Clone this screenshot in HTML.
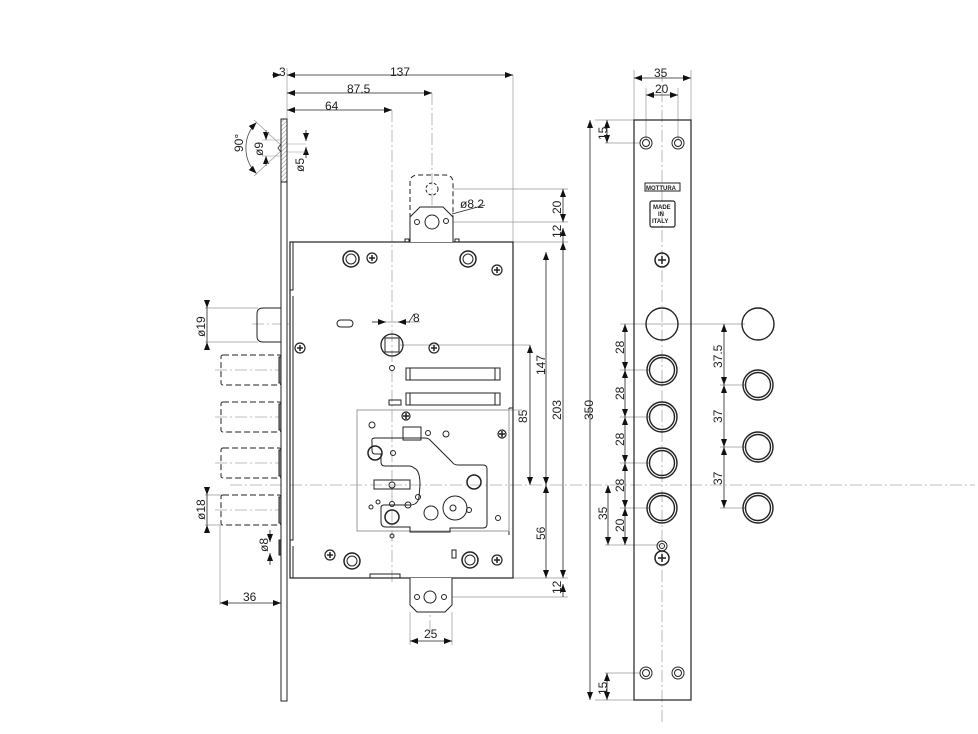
<!DOCTYPE html>
<html><head><meta charset="utf-8"><style>
html,body{margin:0;padding:0;background:#fff;}
svg{display:block;}
text{font-family:"Liberation Sans",sans-serif;font-size:12px;fill:#222;}
</style></head><body>
<svg width="978" height="734" viewBox="0 0 978 734" xmlns="http://www.w3.org/2000/svg">
<defs>
<marker id="a" markerWidth="8" markerHeight="6" refX="8" refY="3" orient="auto-start-reverse" markerUnits="userSpaceOnUse"><path d="M0,0 L8,3 L0,6z" fill="#111"/></marker>
<pattern id="h" width="3" height="3" patternUnits="userSpaceOnUse" patternTransform="rotate(45)"><line x1="0" y1="0" x2="0" y2="3" stroke="#888" stroke-width="1"/></pattern>
</defs>
<g fill="none" stroke="#222" stroke-width="1">
<g stroke="#aaa" stroke-dasharray="12,3,2,3" stroke-width="0.8">
<line x1="230" y1="485" x2="975" y2="485"/>
<line x1="392" y1="110" x2="392" y2="585"/>
<line x1="432" y1="93" x2="432" y2="242"/>
<line x1="430" y1="580" x2="430" y2="640"/>
<line x1="662" y1="70" x2="662" y2="725"/>
<line x1="252" y1="324" x2="290" y2="324"/>
<line x1="215" y1="370" x2="290" y2="370"/>
<line x1="215" y1="417" x2="290" y2="417"/>
<line x1="215" y1="463" x2="290" y2="463"/>
<line x1="215" y1="510" x2="290" y2="510"/>
</g>
<g stroke="#999" stroke-width="0.7">
<line x1="287" y1="68" x2="287" y2="120"/>
<line x1="513" y1="75" x2="513" y2="242"/>
<line x1="453" y1="189" x2="568" y2="189"/>
<line x1="453" y1="222" x2="568" y2="222"/>
<line x1="513" y1="242" x2="568" y2="242"/>
<line x1="513" y1="578" x2="568" y2="578"/>
<line x1="452" y1="597" x2="568" y2="597"/>
<line x1="400" y1="345" x2="530" y2="345"/>
<line x1="510" y1="410" x2="522" y2="410"/>
<line x1="634" y1="120" x2="595" y2="120"/>
<line x1="634" y1="700" x2="595" y2="700"/>
<line x1="640" y1="143" x2="605" y2="143"/>
<line x1="640" y1="673" x2="605" y2="673"/>
<line x1="634" y1="70" x2="634" y2="120"/>
<line x1="691" y1="70" x2="691" y2="120"/>
<line x1="646" y1="88" x2="646" y2="140"/>
<line x1="678" y1="88" x2="678" y2="140"/>
<line x1="620" y1="324" x2="690" y2="324"/>
<line x1="620" y1="370" x2="650" y2="370"/>
<line x1="620" y1="417" x2="650" y2="417"/>
<line x1="620" y1="463" x2="650" y2="463"/>
<line x1="620" y1="508" x2="650" y2="508"/>
<line x1="605" y1="545" x2="660" y2="545"/>
<line x1="690" y1="324" x2="745" y2="324"/>
<line x1="720" y1="385" x2="745" y2="385"/>
<line x1="720" y1="447" x2="745" y2="447"/>
<line x1="720" y1="508" x2="745" y2="508"/>
<line x1="205" y1="308" x2="258" y2="308"/>
<line x1="205" y1="342" x2="258" y2="342"/>
<line x1="205" y1="495" x2="222" y2="495"/>
<line x1="205" y1="525" x2="222" y2="525"/>
<line x1="220" y1="525" x2="220" y2="605"/>
<line x1="410" y1="612" x2="410" y2="645"/>
<line x1="452" y1="612" x2="452" y2="645"/>
<line x1="372" y1="322" x2="420" y2="322"/>
</g>
<g stroke="#222" stroke-width="0.8">
<line x1="272" y1="75" x2="281" y2="75" marker-end="url(#a)"/>
<line x1="287" y1="75" x2="513" y2="75" marker-start="url(#a)" marker-end="url(#a)"/>
<line x1="287" y1="93" x2="432" y2="93" marker-start="url(#a)" marker-end="url(#a)"/>
<line x1="287" y1="110" x2="392" y2="110" marker-start="url(#a)" marker-end="url(#a)"/>
<line x1="563" y1="189" x2="563" y2="222" marker-start="url(#a)" marker-end="url(#a)"/>
<line x1="563" y1="228" x2="563" y2="242" marker-start="url(#a)"/>
<line x1="563" y1="242" x2="563" y2="578" marker-start="url(#a)" marker-end="url(#a)"/>
<line x1="546" y1="252" x2="546" y2="485" marker-start="url(#a)" marker-end="url(#a)"/>
<line x1="546" y1="485" x2="546" y2="578" marker-start="url(#a)" marker-end="url(#a)"/>
<line x1="530" y1="345" x2="530" y2="485" marker-start="url(#a)" marker-end="url(#a)"/>
<line x1="563" y1="584" x2="563" y2="597" marker-start="url(#a)"/>
<line x1="590" y1="120" x2="590" y2="700" marker-start="url(#a)" marker-end="url(#a)"/>
<line x1="607" y1="120" x2="607" y2="143" marker-start="url(#a)" marker-end="url(#a)"/>
<line x1="607" y1="673" x2="607" y2="700" marker-start="url(#a)" marker-end="url(#a)"/>
<line x1="634" y1="78" x2="691" y2="78" marker-start="url(#a)" marker-end="url(#a)"/>
<line x1="646" y1="95" x2="678" y2="95" marker-start="url(#a)" marker-end="url(#a)"/>
<line x1="625" y1="324" x2="625" y2="370" marker-start="url(#a)" marker-end="url(#a)"/>
<line x1="625" y1="370" x2="625" y2="417" marker-start="url(#a)" marker-end="url(#a)"/>
<line x1="625" y1="417" x2="625" y2="463" marker-start="url(#a)" marker-end="url(#a)"/>
<line x1="625" y1="463" x2="625" y2="508" marker-start="url(#a)" marker-end="url(#a)"/>
<line x1="625" y1="508" x2="625" y2="545" marker-start="url(#a)" marker-end="url(#a)"/>
<line x1="608" y1="485" x2="608" y2="545" marker-start="url(#a)" marker-end="url(#a)"/>
<line x1="724" y1="324" x2="724" y2="385" marker-start="url(#a)" marker-end="url(#a)"/>
<line x1="724" y1="385" x2="724" y2="447" marker-start="url(#a)" marker-end="url(#a)"/>
<line x1="724" y1="447" x2="724" y2="508" marker-start="url(#a)" marker-end="url(#a)"/>
<line x1="207" y1="300" x2="207" y2="308" marker-end="url(#a)"/>
<line x1="207" y1="308" x2="207" y2="342"/>
<line x1="207" y1="350" x2="207" y2="342" marker-end="url(#a)"/>
<line x1="207" y1="487" x2="207" y2="495" marker-end="url(#a)"/>
<line x1="207" y1="495" x2="207" y2="525"/>
<line x1="207" y1="533" x2="207" y2="525" marker-end="url(#a)"/>
<line x1="270" y1="530" x2="270" y2="542" marker-end="url(#a)"/>
<line x1="270" y1="565" x2="270" y2="553" marker-end="url(#a)"/>
<line x1="220" y1="603" x2="281" y2="603" marker-start="url(#a)" marker-end="url(#a)"/>
<line x1="410" y1="641" x2="452" y2="641" marker-start="url(#a)" marker-end="url(#a)"/>
<line x1="372" y1="322" x2="386" y2="322" marker-end="url(#a)"/>
<line x1="410" y1="322" x2="398" y2="322" marker-end="url(#a)"/>
<line x1="306" y1="130" x2="306" y2="141" marker-end="url(#a)"/>
<line x1="306" y1="158" x2="306" y2="147" marker-end="url(#a)"/>
<line x1="266" y1="130" x2="266" y2="140" marker-end="url(#a)"/>
<line x1="266" y1="166" x2="266" y2="156" marker-end="url(#a)"/>
<line x1="452" y1="214" x2="485" y2="205"/>
</g>
<path d="M256.5,122.5 A36,36 0 0 0 256.5,173.5" stroke="#444" stroke-width="0.8" marker-start="url(#a)" marker-end="url(#a)"/>
<line x1="254" y1="120" x2="282" y2="146" stroke="#999" stroke-width="0.7"/>
<line x1="254" y1="176" x2="282" y2="150" stroke="#999" stroke-width="0.7"/>
<line x1="262" y1="140" x2="282" y2="140" stroke="#999" stroke-width="0.6"/>
<line x1="262" y1="156" x2="282" y2="156" stroke="#999" stroke-width="0.6"/>
<line x1="287" y1="144" x2="306" y2="144" stroke="#999" stroke-width="0.6"/>
<line x1="287" y1="152" x2="306" y2="152" stroke="#999" stroke-width="0.6"/>
<rect x="281" y="119" width="6" height="582" fill="#fff"/>
<rect x="281" y="119" width="6" height="63" fill="url(#h)"/>
<path d="M281,144 L278,148 L281,152" stroke="#444"/>
<rect x="290" y="242" width="223" height="336" stroke-width="1.2"/>
<path d="M293,242 V290 H290 M293,296 V540 H290 M293,546 V578"/>
<line x1="509" y1="408" x2="509" y2="535"/><line x1="513" y1="408" x2="509" y2="408"/>
<path d="M410,242 V183 Q410,175 418,175 H445 Q453,175 453,183 V242" stroke-dasharray="5,3"/>
<path d="M410,242 V217 L420,207 H443 L453,217 V242" fill="#fff"/>
<circle cx="432" cy="189" r="6" stroke-dasharray="3,2"/>
<circle cx="432" cy="222" r="7"/><circle cx="417" cy="222" r="2.5"/><circle cx="446" cy="221" r="2.5"/>
<rect x="405" y="239" width="4" height="3"/><rect x="455" y="239" width="4" height="3"/>
<path d="M410,578 V605 L417,612 H445 L452,605 V578" fill="#fff"/>
<circle cx="430" cy="597" r="6"/><circle cx="417" cy="597" r="2.5"/><circle cx="444" cy="597" r="2.5"/>
<rect x="370" y="574" width="30" height="4"/>
<path d="M281,308 H263 Q257,308 257,314 V336 Q257,342 263,342 H281"/>
<g stroke-dasharray="6,3">
<rect x="221" y="355" width="60" height="30" rx="2"/>
<rect x="221" y="402" width="60" height="30" rx="2"/>
<rect x="221" y="448" width="60" height="30" rx="2"/>
<rect x="221" y="495" width="60" height="30" rx="2"/>
</g>
<rect x="279" y="357" width="2" height="26" fill="#999"/><rect x="279" y="404" width="2" height="26" fill="#999"/>
<rect x="279" y="450" width="2" height="26" fill="#999"/><rect x="279" y="497" width="2" height="26" fill="#999"/>
<rect x="279" y="540" width="2" height="15" fill="#555"/>
<g stroke-width="1.5"><circle cx="351" cy="259" r="8"/><circle cx="468" cy="259" r="8"/><circle cx="352" cy="561" r="8"/><circle cx="470" cy="560" r="8"/></g>
<circle cx="351" cy="259" r="5"/><circle cx="468" cy="259" r="5"/><circle cx="352" cy="561" r="5"/><circle cx="470" cy="560" r="5"/>
<circle cx="392" cy="345" r="11" stroke-width="1.3"/><rect x="385" y="338" width="14" height="14"/>
<rect x="337" y="320" width="16" height="7" rx="3.5"/>
<circle cx="392" cy="368" r="2.5"/><rect x="389" y="400" width="12" height="5"/>
<rect x="406" y="368" width="94" height="12"/><line x1="410" y1="368" x2="410" y2="380"/><line x1="495" y1="368" x2="495" y2="380"/>
<rect x="406" y="393" width="94" height="12"/><line x1="410" y1="393" x2="410" y2="405"/><line x1="495" y1="393" x2="495" y2="405"/>
<rect x="357" y="410" width="152" height="121" stroke="#999"/>
<path d="M372,442 Q371,438 375,438 H425 Q428,438 430,440 L452,462 Q454,465 458,465 H483 Q487,465 487,469 V524 Q487,528 483,528 H450 V532 H410 V527 H386 Q381,527 381,522 V508 Q381,505 384,505 H410 Q418,505 419,497 L420,485 Q420,470 414,468 Q412,466 409,466 L385,466 Q381,466 381,462 V454 H375 Q372,454 372,450 Z"/>
<rect x="403" y="427" width="18" height="13"/>
<circle cx="375" cy="453" r="7" stroke-width="1.5"/><circle cx="474" cy="482" r="7" stroke-width="1.5"/><circle cx="392" cy="517" r="7" stroke-width="1.5"/>
<circle cx="455" cy="508" r="12"/><circle cx="453" cy="508" r="3"/><circle cx="431" cy="513" r="7"/>
<circle cx="372" cy="425" r="3"/><circle cx="428" cy="433" r="2.5"/><circle cx="446" cy="434" r="3"/>
<circle cx="393" cy="453" r="2.5"/><circle cx="392" cy="504" r="2.5"/><circle cx="408" cy="505" r="3"/><circle cx="418" cy="497" r="2.5"/>
<circle cx="378" cy="502" r="2"/><circle cx="371" cy="507" r="2"/><circle cx="469" cy="510" r="2.5"/><circle cx="498" cy="518" r="2.5"/>
<circle cx="392" cy="536" r="2"/><rect x="452" y="550" width="4" height="8"/>
<path d="M374,480 h36 v9 h-36z"/>
<circle cx="392" cy="485" r="3"/>
<g stroke-width="1.2">
<circle cx="372" cy="258" r="5"/><circle cx="497" cy="270" r="5"/><circle cx="300" cy="348" r="5"/><circle cx="434" cy="348" r="5"/>
<circle cx="330" cy="555" r="5"/><circle cx="497" cy="560" r="5"/><circle cx="406" cy="416" r="4"/><circle cx="502" cy="434" r="4"/>
</g>
<path stroke-width="1.5" d="M369,258h6M372,255v6M494,270h6M497,267v6M297,348h6M300,345v6M431,348h6M434,345v6M327,555h6M330,552v6M494,560h6M497,557v6M403,416h6M406,413v6M499,434h6M502,431v6"/>
<rect x="634" y="120" width="57" height="580" stroke-width="1.2"/>
<circle cx="646" cy="143" r="6"/><circle cx="646" cy="143" r="3.5"/><circle cx="678" cy="143" r="6"/><circle cx="678" cy="143" r="3.5"/>
<circle cx="646" cy="673" r="6"/><circle cx="646" cy="673" r="3.5"/><circle cx="678" cy="673" r="6"/><circle cx="678" cy="673" r="3.5"/>
<rect x="645" y="183" width="35" height="8"/>
<rect x="650" y="201" width="25" height="26" rx="2" stroke-width="1.2"/>
<circle cx="662" cy="260" r="7" stroke-width="1.5"/><path d="M658,260h8M662,256v8" stroke-width="1.5"/>
<circle cx="662" cy="546" r="5"/><circle cx="662" cy="546" r="2.5"/>
<circle cx="662" cy="558" r="7" stroke-width="1.5"/><path d="M658,558h8M662,554v8" stroke-width="1.5"/>
<g stroke-width="1.4">
<circle cx="662" cy="324" r="16"/>
<circle cx="662" cy="370" r="15"/><circle cx="662" cy="370" r="12.5"/>
<circle cx="662" cy="417" r="15"/><circle cx="662" cy="417" r="12.5"/>
<circle cx="662" cy="463" r="15"/><circle cx="662" cy="463" r="12.5"/>
<circle cx="662" cy="508" r="15"/><circle cx="662" cy="508" r="12.5"/>
<circle cx="758" cy="324" r="16"/>
<circle cx="758" cy="385" r="15"/><circle cx="758" cy="385" r="12.5"/>
<circle cx="758" cy="447" r="15"/><circle cx="758" cy="447" r="12.5"/>
<circle cx="758" cy="508" r="15"/><circle cx="758" cy="508" r="12.5"/>
</g>
</g>
<text x="279" y="76">3</text>
<text x="390" y="76">137</text>
<text x="347" y="93">87.5</text>
<text x="325" y="110">64</text>
<text x="411" y="322">&#8725;8</text>
<text x="460" y="208">&#248;8.2</text>
<text x="654" y="77">35</text>
<text x="655" y="93">20</text>
<text x="646" y="190" style="font-size:6px;font-weight:bold">MOTTURA</text>
<text x="653" y="209" style="font-size:6px;font-weight:bold">MADE</text>
<text x="658" y="216" style="font-size:6px;font-weight:bold">IN</text>
<text x="652" y="223" style="font-size:6px;font-weight:bold">ITALY</text>
<text x="243" y="601">36</text>
<text x="424" y="638">25</text>
<text transform="translate(243,152) rotate(-90)">90°</text>
<text transform="translate(263,156) rotate(-90)">&#248;9</text>
<text transform="translate(304,172) rotate(-90)">&#248;5</text>
<text transform="translate(561,214) rotate(-90)">20</text>
<text transform="translate(561,238) rotate(-90)">12</text>
<text transform="translate(545,375) rotate(-90)">147</text>
<text transform="translate(527,423) rotate(-90)">85</text>
<text transform="translate(561,420) rotate(-90)">203</text>
<text transform="translate(593,420) rotate(-90)">350</text>
<text transform="translate(545,540) rotate(-90)">56</text>
<text transform="translate(561,594) rotate(-90)">12</text>
<text transform="translate(205,337) rotate(-90)">&#248;19</text>
<text transform="translate(205,520) rotate(-90)">&#248;18</text>
<text transform="translate(268,552) rotate(-90)">&#248;8</text>
<text transform="translate(607,140) rotate(-90)">15</text>
<text transform="translate(607,695) rotate(-90)">15</text>
<text transform="translate(624,354) rotate(-90)">28</text>
<text transform="translate(624,400) rotate(-90)">28</text>
<text transform="translate(624,446) rotate(-90)">28</text>
<text transform="translate(624,492) rotate(-90)">28</text>
<text transform="translate(607,520) rotate(-90)">35</text>
<text transform="translate(624,532) rotate(-90)">20</text>
<text transform="translate(722,368) rotate(-90)">37.5</text>
<text transform="translate(722,423) rotate(-90)">37</text>
<text transform="translate(722,485) rotate(-90)">37</text>
</svg>
</body></html>
